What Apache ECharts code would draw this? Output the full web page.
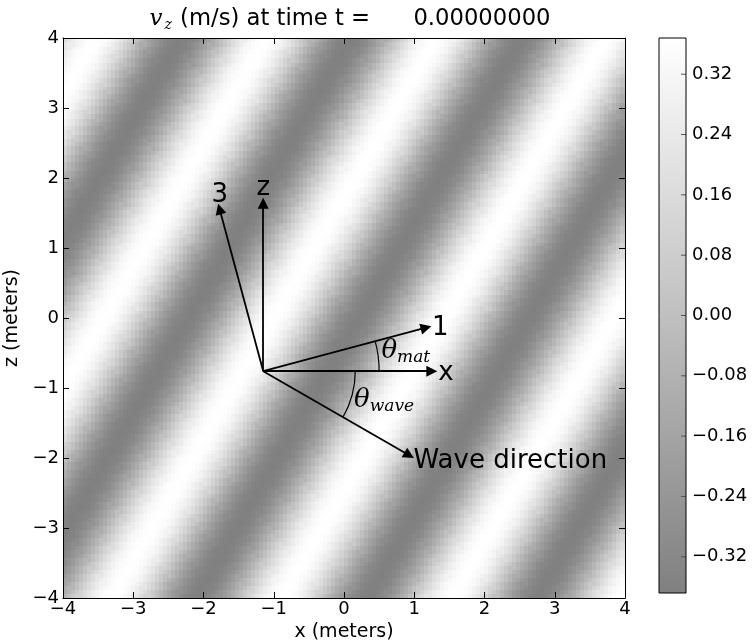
<!DOCTYPE html>
<html>
<head>
<meta charset="utf-8">
<script src="https://cdn.jsdelivr.net/npm/echarts@6/dist/echarts.min.js"></script>
<style>
  html, body { margin: 0; padding: 0; background: #fff; }
  #chart { width: 753px; height: 641px; }
</style>
</head>
<body>
<div id="chart"></div>
<script>
// axis ticks
const xTicks = [-4, -3, -2, -1, 0, 1, 2, 3, 4];
const zTicks = [-4, -3, -2, -1, 0, 1, 2, 3, 4];
const colorTicks = [-0.32, -0.24, -0.16, -0.08, 0.0, 0.08, 0.16, 0.24, 0.32];
const vRange = [-0.368, 0.368];

// v_z read across one wavelength of the stripes, starting at a white crest (40 steps)
const profile = [
  0.368, 0.363, 0.350, 0.328, 0.298, 0.260, 0.216, 0.167, 0.114, 0.058,
  0.000, -0.058, -0.114, -0.167, -0.216, -0.260, -0.298, -0.328, -0.350, -0.363,
  -0.368, -0.363, -0.350, -0.328, -0.298, -0.260, -0.216, -0.167, -0.114, -0.058,
  0.000, 0.058, 0.114, 0.167, 0.216, 0.260, 0.298, 0.328, 0.350, 0.363
];
const waveAngleDeg = -30;   // stripes run perpendicular to this
const wavelength = 2.1;     // metres
const crestOffset = 1.24;   // position of a crest along the wave direction

// annotation arrows (data coords)
const arrows = [
  { from: [-1.15, -0.76], to: [-1.15, 1.64] },   // z
  { from: [-1.15, -0.76], to: [1.25, -0.76] },   // x
  { from: [-1.15, -0.76], to: [1.168, -0.139] }, // 1
  { from: [-1.15, -0.76], to: [-1.771, 1.558] }, // 3
  { from: [-1.15, -0.76], to: [0.928, -1.96] }   // wave direction
];
const arrowLabels = [
  { text: 'z', at: [-1.15, 1.85], align: 'center' },
  { text: '3', at: [-1.77, 1.75], align: 'center' },
  { text: '1', at: [1.37, -0.15], align: 'center' },
  { text: 'x', at: [1.45, -0.79], align: 'center' },
  { text: 'Wave direction', at: [0.99, -2.04], align: 'left' }
];
const arcs = [
  { center: [-1.15, -0.76], r: 1.65, from: 0, to: 15, label: 'mat', at: [0.88, -0.47] },
  { center: [-1.15, -0.76], r: 1.31, from: -30, to: 0, label: 'wave', at: [0.57, -1.17] }
];

const minus = s => String(s).replace('-', '\u2212');

// build the field table from the profile
const N = 140;
const cell = 8 / N;
const ang = waveAngleDeg * Math.PI / 180;
const field = [];
for (let i = 0; i < N; i++) {
  for (let j = 0; j < N; j++) {
    const x = -4 + (i + 0.5) * cell;
    const z = -4 + (j + 0.5) * cell;
    const along = x * Math.cos(ang) + z * Math.sin(ang);
    let f = ((along - crestOffset) / wavelength) % 1;
    if (f < 0) f += 1;
    const k = Math.round(f * profile.length) % profile.length;
    field.push([x, z, profile[k]]);
  }
}

const grayRamp = ['#808080', '#ffffff'];
const FONT = 'DejaVu Sans';
const tickFont = 18;
const nameFont = 19;

// frame axes: inward ticks on all four sides, drawn above the image
function frameAxis(extra) {
  return Object.assign({
    gridIndex: 0, type: 'value', min: -4, max: 4, interval: 1, z: 10,
    axisLine: { onZero: false, lineStyle: { color: '#000', width: 1 } },
    axisTick: { inside: true, length: 6, lineStyle: { color: '#000' } },
    axisLabel: { show: false },
    splitLine: { show: false }
  }, extra);
}

const chart = echarts.init(document.getElementById('chart'), null, { renderer: 'canvas' });

const option = {
  animation: false,
  backgroundColor: '#fff',
  title: {
    text: '{v|v}{sub|z}{t| (m/s) at time t =      0.00000000}',
    left: 345,
    top: 2,
    textAlign: 'center',
    textStyle: {
      fontWeight: 'normal',
      rich: {
        v: { fontFamily: 'DejaVu Serif', fontStyle: 'italic', fontWeight: 'normal', fontSize: 23, color: '#000' },
        sub: { fontFamily: 'DejaVu Serif', fontStyle: 'italic', fontWeight: 'normal', fontSize: 14, color: '#000', padding: [11, 1, 0, 2] },
        t: { fontFamily: FONT, fontWeight: 'normal', fontSize: 22.7, color: '#000' }
      }
    }
  },
  grid: [
    { left: 63, right: 128, top: 38, bottom: 43, outerBoundsMode: 'none', containLabel: false },
    { left: 659, width: 27, top: 38, bottom: 48, outerBoundsMode: 'none', containLabel: false,
      show: true, borderColor: '#000', borderWidth: 1, backgroundColor: 'transparent', z: 10 }
  ],
  xAxis: [
    frameAxis({
      name: 'x (meters)', nameLocation: 'middle', nameGap: 21,
      nameTextStyle: { fontFamily: FONT, fontSize: nameFont, color: '#000' },
      axisLabel: { fontFamily: FONT, fontSize: tickFont, color: '#000', margin: 2, formatter: minus }
    }),
    frameAxis({ position: 'top' }),
    { gridIndex: 1, type: 'value', min: 0, max: 1, show: false }
  ],
  yAxis: [
    frameAxis({
      name: 'z (meters)', nameLocation: 'middle', nameGap: 41, nameRotate: 90,
      nameTextStyle: { fontFamily: FONT, fontSize: nameFont, color: '#000' },
      axisLabel: { fontFamily: FONT, fontSize: tickFont, color: '#000', margin: 4, formatter: minus }
    }),
    frameAxis({ position: 'right' }),
    {
      gridIndex: 1, type: 'value', min: vRange[0], max: vRange[1], position: 'right', z: 10,
      axisLine: { show: false },
      axisTick: { show: false },
      axisLabel: {
        fontFamily: FONT, fontSize: tickFont, color: '#000', margin: 6,
        customValues: colorTicks,
        formatter: v => minus(v.toFixed(2))
      },
      splitLine: { show: false }
    }
  ],
  series: [
    {
      // v_z field
      type: 'custom',
      xAxisIndex: 0, yAxisIndex: 0,
      progressive: 0,
      data: field,
      renderItem: function (params, api) {
        const x = api.value(0), z = api.value(1), v = api.value(2);
        const p0 = api.coord([x - cell / 2, z + cell / 2]);
        const p1 = api.coord([x + cell / 2, z - cell / 2]);
        const t = (v - vRange[0]) / (vRange[1] - vRange[0]);
        const x0 = Math.floor(p0[0]), y0 = Math.floor(p0[1]);
        return {
          type: 'rect',
          shape: { x: x0, y: y0, width: Math.ceil(p1[0]) - x0, height: Math.ceil(p1[1]) - y0 },
          style: { fill: echarts.color.lerp(t, grayRamp) },
          silent: true
        };
      },
      clip: true,
      z: 1
    },
    {
      // arcs marking the angles
      type: 'custom',
      xAxisIndex: 0, yAxisIndex: 0,
      data: arcs.map((a, i) => [a.center[0], a.center[1], i]),
      renderItem: function (params, api) {
        const a = arcs[api.value(2)];
        const c = api.coord(a.center);
        const r = api.size([a.r, 0])[0];
        const lab = api.coord(a.at);
        return {
          type: 'group',
          children: [
            {
              type: 'arc',
              shape: { cx: c[0], cy: c[1], r: r, startAngle: -a.to * Math.PI / 180, endAngle: -a.from * Math.PI / 180 },
              style: { stroke: '#000', lineWidth: 1.2, fill: null }
            },
            {
              type: 'text',
              x: lab[0], y: lab[1],
              style: {
                text: '{t|\u03b8}{s|' + a.label + '}',
                align: 'center', verticalAlign: 'middle',
                rich: {
                  t: { fontFamily: 'DejaVu Serif', fontStyle: 'italic', fontSize: 26, fill: '#000' },
                  s: { fontFamily: 'DejaVu Serif', fontStyle: 'italic', fontSize: 17, fill: '#000', padding: [14, 0, 0, 0] }
                }
              }
            }
          ]
        };
      },
      z: 3
    },
    {
      type: 'lines',
      coordinateSystem: 'cartesian2d',
      xAxisIndex: 0, yAxisIndex: 0,
      symbol: ['none', 'triangle'],
      symbolSize: [7, 11],
      lineStyle: { color: '#000', width: 1.8, opacity: 1 },
      itemStyle: { color: '#000' },
      data: arrows.map(a => ({ coords: [a.from, a.to] })),
      silent: true,
      z: 4
    },
    {
      type: 'custom',
      xAxisIndex: 0, yAxisIndex: 0,
      data: arrowLabels.map((l, i) => [l.at[0], l.at[1], i]),
      renderItem: function (params, api) {
        const l = arrowLabels[api.value(2)];
        const p = api.coord(l.at);
        return {
          type: 'text',
          x: p[0], y: p[1],
          style: {
            text: l.text, fontFamily: FONT, fontSize: 26, fill: '#000',
            align: l.align, verticalAlign: 'middle'
          }
        };
      },
      z: 5
    },
    {
      // colorbar gradient
      type: 'custom',
      xAxisIndex: 2, yAxisIndex: 2,
      data: [[0, vRange[0], 1, vRange[1]]],
      renderItem: function (params, api) {
        const p0 = api.coord([api.value(0), api.value(3)]);
        const p1 = api.coord([api.value(2), api.value(1)]);
        return {
          type: 'rect',
          shape: { x: p0[0], y: p0[1], width: p1[0] - p0[0], height: p1[1] - p0[1] },
          style: {
            fill: new echarts.graphic.LinearGradient(0, 0, 0, 1, [
              { offset: 0, color: grayRamp[1] },
              { offset: 1, color: grayRamp[0] }
            ])
          },
          silent: true
        };
      },
      z: 1
    },
    {
      // colorbar ticks, inside on the right edge
      type: 'custom',
      xAxisIndex: 2, yAxisIndex: 2,
      data: colorTicks.map(v => [1, v]),
      renderItem: function (params, api) {
        const p = api.coord([api.value(0), api.value(1)]);
        return {
          type: 'line',
          shape: { x1: p[0] - 5, y1: p[1], x2: p[0], y2: p[1] },
          style: { stroke: '#555', lineWidth: 1 },
          silent: true
        };
      },
      z: 2
    }
  ]
};

chart.setOption(option);
</script>
</body>
</html>
